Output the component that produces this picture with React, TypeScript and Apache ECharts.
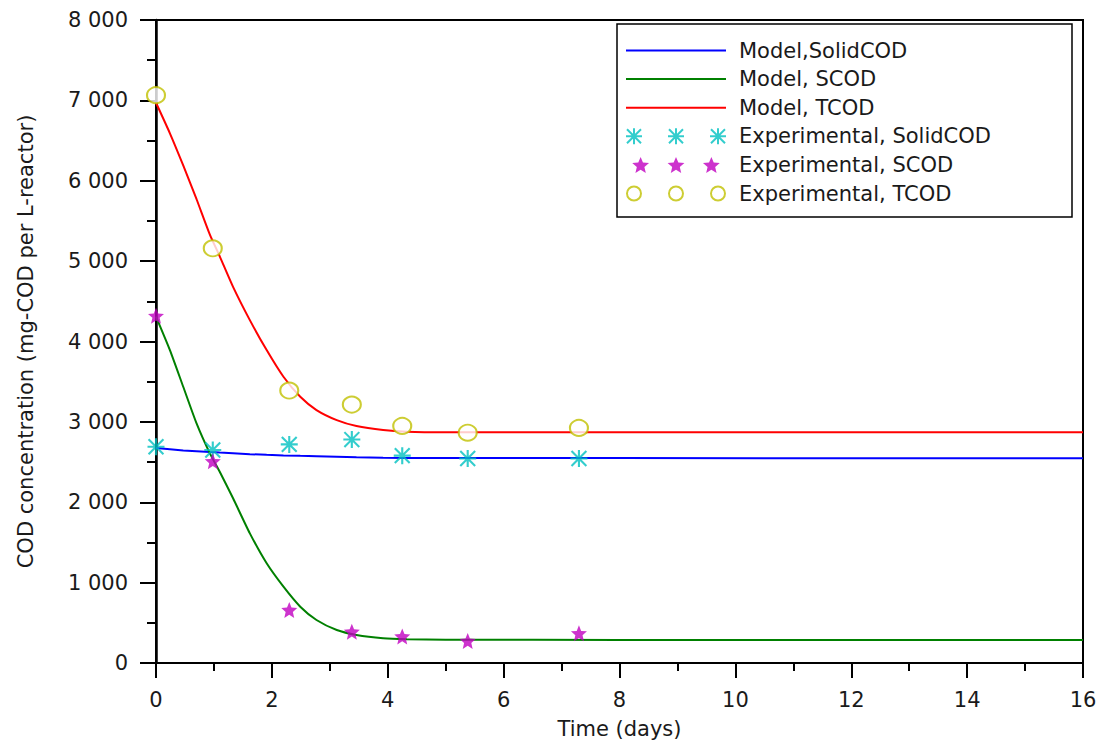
import React, { useEffect, useRef } from "react";
import * as echarts from "echarts";

// ---- data ----
const tExp = [0, 0.98, 2.3, 3.38, 4.25, 5.38, 7.3];
const solidExp = [2690, 2650, 2720, 2780, 2580, 2545, 2545];
const scodExp = [4320, 2510, 660, 390, 330, 275, 370];
const tcodExp = [7065, 5160, 3390, 3215, 2950, 2865, 2925];

const tModel = [0, 0.24, 0.47, 0.7, 0.93, 1.1, 1.33, 1.62, 1.91, 2.2, 2.49, 2.77, 3.12, 3.46, 3.92, 4.33, 5, 8, 12, 16];
const tcodModel = [6970, 6590, 6190, 5770, 5330, 5060, 4680, 4266, 3893, 3561, 3312, 3147, 3022, 2948, 2898, 2877, 2870, 2870, 2870, 2870];
const scodModel = [4310, 3893, 3437, 2981, 2608, 2380, 2050, 1613, 1240, 949, 700, 535, 410, 348, 307, 295, 290, 287, 286, 285];
const solidModel = [2675, 2660, 2645, 2635, 2625, 2618, 2610, 2598, 2590, 2583, 2577, 2572, 2566, 2560, 2555, 2552, 2550, 2549, 2548, 2548];

const seriesNames = [
  "Model,SolidCOD",
  "Model, SCOD",
  "Model, TCOD",
  "Experimental, SolidCOD",
  "Experimental, SCOD",
  "Experimental, TCOD",
];

const xTicks = { min: 0, max: 16, interval: 2 };
const yTicks = { min: 0, max: 8000, interval: 1000 };

// ---- marker shapes ----
const asterisk =
  "M7 0 L9 0 L9 16 L7 16 Z M0 7 L16 7 L16 9 L0 9 Z M1.7 0.3 L15.7 14.3 L14.3 15.7 L0.3 1.7 Z M14.3 0.3 L15.7 1.7 L1.7 15.7 L0.3 14.3 Z";
const star =
  "M10 0 L12.65 6.36 L19.51 6.91 L14.28 11.39 L15.88 18.09 L10 14.5 L4.12 18.09 L5.72 11.39 L0.49 6.91 L7.35 6.36 Z";
const lineIcon = "M0 0 L100 0 L100 2 L0 2 Z";

function shiftPath(d: string, dx: number): string {
  return d.replace(/([ML])(-?[\d.]+) (-?[\d.]+)/g, (_m, c, x, y) => `${c}${(parseFloat(x) + dx).toFixed(2)} ${y}`);
}
const asteriskTriple = [0, 42, 84].map((dx) => shiftPath(asterisk, dx)).join(" ");
const starTriple = [0, 40, 80].map((dx) => shiftPath(star, dx)).join(" ");
const ring = (cx: number) =>
  `M${cx - 8} 8 A8 8 0 1 1 ${cx + 8} 8 A8 8 0 1 1 ${cx - 8} 8 Z M${cx - 6} 8 A6 6 0 1 0 ${cx + 6} 8 A6 6 0 1 0 ${cx - 6} 8 Z`;
const ringTriple = [8, 50, 92].map(ring).join(" ");

const FONT = "DejaVu Sans";
const TXT = "#1a1a1a";

function fmt(v: number): string {
  if (v === 0) return "0";
  return String(v).replace(/\B(?=(\d{3})+(?!\d))/g, " ");
}

export default function App() {
  const ref = useRef<HTMLDivElement>(null);

  useEffect(() => {
    if (!ref.current) return;
    const chart = echarts.init(ref.current, undefined, { renderer: "svg" });
    const pair = (xs: number[], ys: number[]) => xs.map((x, i) => [x, ys[i]]);

    chart.setOption({
      animation: false,
      backgroundColor: "#ffffff",
      grid: {
        left: 156,
        right: 18,
        top: 20,
        bottom: 82,
        show: true,
        borderColor: "#000",
        borderWidth: 2,
        containLabel: false,
        outerBoundsMode: "none",
      },
      xAxis: {
        type: "value",
        min: xTicks.min,
        max: xTicks.max,
        interval: xTicks.interval,
        name: "Time (days)",
        nameLocation: "middle",
        nameGap: 55,
        nameTextStyle: { fontFamily: FONT, fontSize: 21, color: TXT },
        axisLine: { show: true, lineStyle: { color: "#000", width: 2 } },
        axisTick: { show: true, length: 15, lineStyle: { color: "#000", width: 2 } },
        minorTick: { show: true, splitNumber: 2, length: 8, lineStyle: { color: "#000", width: 2 } },
        splitLine: { show: false },
        axisLabel: { margin: 26, fontFamily: FONT, fontSize: 21, color: TXT },
      },
      yAxis: {
        type: "value",
        min: yTicks.min,
        max: yTicks.max,
        interval: yTicks.interval,
        name: "COD concentration (mg-COD per L-reactor)",
        nameLocation: "middle",
        nameRotate: 90,
        nameGap: 120,
        nameTextStyle: { fontFamily: FONT, fontSize: 21, color: TXT },
        axisLine: { show: true, lineStyle: { color: "#000", width: 2.5 } },
        axisTick: { show: true, length: 16, lineStyle: { color: "#000", width: 2 } },
        minorTick: { show: true, splitNumber: 2, length: 9, lineStyle: { color: "#000", width: 2 } },
        splitLine: { show: false },
        axisLabel: { margin: 28, fontFamily: FONT, fontSize: 21, color: TXT, formatter: fmt },
      },
      legend: {
        orient: "vertical",
        left: 626,
        top: 40,
        padding: 0,
        itemWidth: 100,
        itemHeight: 16,
        itemGap: 7.6,
        z: 10,
        textStyle: { fontFamily: FONT, fontSize: 21, color: TXT, padding: [0, 0, 0, 8] },
        itemStyle: { borderWidth: 0 },
        data: [
          { name: seriesNames[0], icon: "path://" + lineIcon },
          { name: seriesNames[1], icon: "path://" + lineIcon },
          { name: seriesNames[2], icon: "path://" + lineIcon },
          { name: seriesNames[3], icon: "path://" + asteriskTriple },
          { name: seriesNames[4], icon: "path://" + starTriple },
          { name: seriesNames[5], icon: "path://" + ringTriple },
        ],
      },
      graphic: [
        {
          type: "rect",
          z: 5,
          shape: { x: 617, y: 24, width: 455, height: 193 },
          style: { fill: "#fff", stroke: "#000", lineWidth: 1.5 },
        },
      ],
      series: [
        {
          name: seriesNames[0],
          type: "line",
          data: pair(tModel, solidModel),
          symbol: "none",
          color: "#0000FF",
          lineStyle: { width: 2, color: "#0000FF" },
          z: 2,
        },
        {
          name: seriesNames[1],
          type: "line",
          data: pair(tModel, scodModel),
          symbol: "none",
          smooth: 0.2,
          color: "#008000",
          lineStyle: { width: 2, color: "#008000" },
          z: 2,
        },
        {
          name: seriesNames[2],
          type: "line",
          data: pair(tModel, tcodModel),
          symbol: "none",
          smooth: 0.2,
          color: "#FF0000",
          lineStyle: { width: 2, color: "#FF0000" },
          z: 2,
        },
        {
          name: seriesNames[3],
          type: "scatter",
          data: pair(tExp, solidExp),
          symbol: "path://" + asterisk,
          symbolSize: 17,
          itemStyle: { color: "#00C0C0" },
          z: 3,
        },
        {
          name: seriesNames[4],
          type: "scatter",
          data: pair(tExp, scodExp),
          symbol: "path://" + star,
          symbolSize: 16,
          itemStyle: { color: "#C000C0" },
          z: 3,
        },
        {
          name: seriesNames[5],
          type: "scatter",
          data: pair(tExp, tcodExp),
          symbol: "emptyCircle",
          symbolSize: [18, 16],
          itemStyle: { color: "#C0C000", borderWidth: 2.5 },
          z: 3,
        },
      ],
    });

    return () => chart.dispose();
  }, []);

  return (
    <div
      ref={ref}
      style={{ position: "absolute", left: 0, top: 0, width: 1101, height: 745 }}
    />
  );
}
